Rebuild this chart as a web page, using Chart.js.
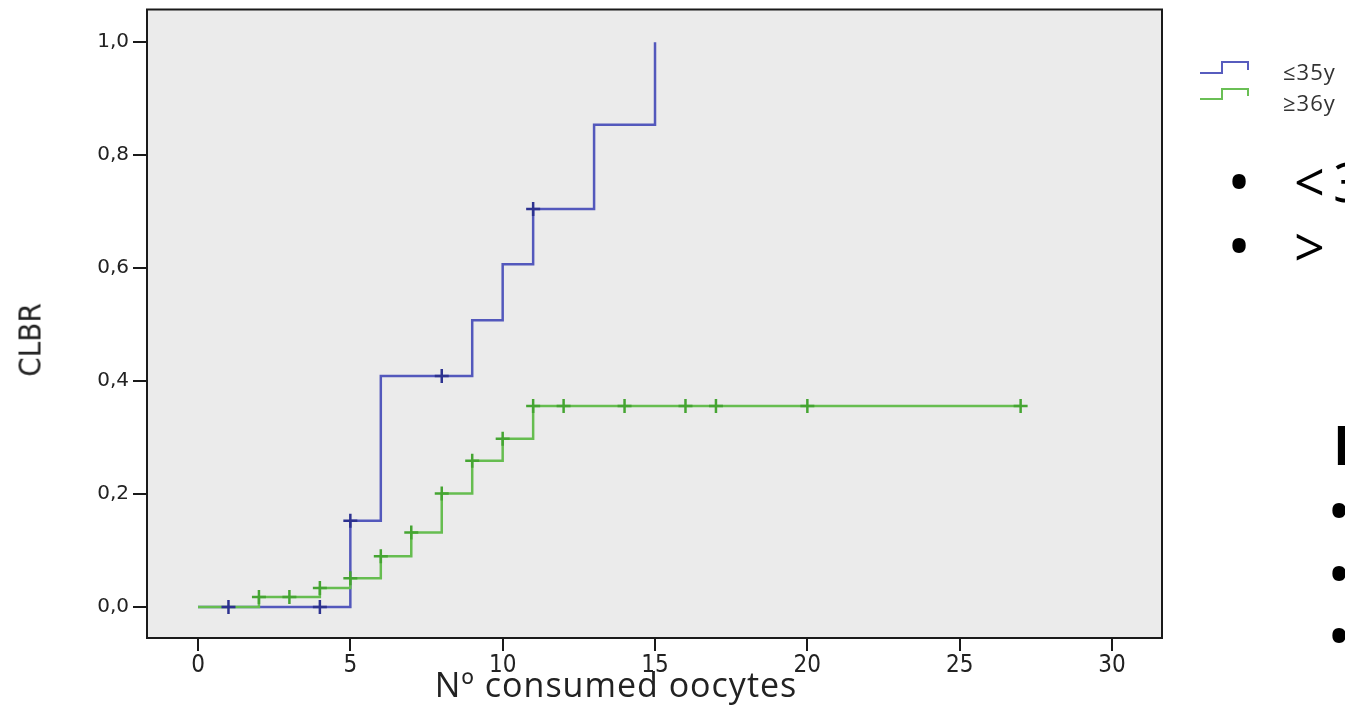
<!DOCTYPE html>
<html>
<head>
<meta charset="utf-8">
<script src="https://cdn.jsdelivr.net/npm/chart.js@4.4.0/dist/chart.umd.min.js"></script>
<style>
  body { margin: 0; width: 1345px; height: 727px; overflow: hidden; background: #fff; position: relative; font-family: 'Open Sans', sans-serif; }
  #myChart { position: absolute; left: 0; top: 0; }
  .txt { position: absolute; white-space: nowrap; line-height: 1; color: #111; }
  #ytitle { left: 30px; top: 340px; font-family: 'Liberation Sans Narrow', 'DejaVu Sans Condensed', sans-serif; font-size: 31px; transform: translate(-50%, -50%) rotate(-90deg); color: #222; }
  #xtitle { left: 616px; top: 684px; font-size: 34px; letter-spacing: 1px; transform: translate(-50%, -50%); color: #222; }
  .leg { font-size: 22px; letter-spacing: 1px; color: #333; }
  .big { font-size: 54px; letter-spacing: 8px; color: #000; }
  .dot { font-size: 64px; color: #000; }
</style>
</head>
<body>
<canvas id="myChart" width="1345" height="727"></canvas>

<div id="ytitle" class="txt">CLBR</div>
<div id="xtitle" class="txt">Nº consumed oocytes</div>

<svg style="position:absolute;left:1198px;top:56px" width="56" height="50">
  <polyline points="2,17 24,17 24,6 50,6 50,14" fill="none" stroke="#575cbe" stroke-width="2"/>
  <polyline points="2,43 24,43 24,33 50,33 50,40" fill="none" stroke="#6abf55" stroke-width="2"/>
</svg>
<div class="txt leg" style="left:1283px;top:60px">≤35y</div>
<div class="txt leg" style="left:1283px;top:91px">≥36y</div>

<div class="txt dot" style="left:1227px;top:149px">•</div>
<div class="txt big" style="left:1294px;top:154px">&lt;35</div>
<div class="txt dot" style="left:1227px;top:213px">•</div>
<div class="txt big" style="left:1294px;top:219px">&gt; 35</div>
<div class="txt big" style="left:1333px;top:417px;font-weight:bold">I</div>
<div class="txt dot" style="left:1327px;top:478px">•</div>
<div class="txt dot" style="left:1327px;top:541px">•</div>
<div class="txt dot" style="left:1327px;top:603px">•</div>

<script>
// Datos

const xTicks = [0, 5, 10, 15, 20, 25, 30];
const yTicks = [0, 0.2, 0.4, 0.6, 0.8, 1.0];

// <=35 anos: tiempos de evento y CLBR acumulado
const jovenTiempos = [0, 5, 6, 9, 10, 11, 13, 15];
const jovenValores = [0, 0.153, 0.409, 0.508, 0.607, 0.705, 0.854, 1.0];
const jovenCensuras = [1, 4, 5, 8, 11];

// >=36 anos
const mayorTiempos = [0, 2, 4, 5, 6, 7, 8, 9, 10, 11, 27];
const mayorValores = [0, 0.018, 0.034, 0.051, 0.09, 0.132, 0.201, 0.259, 0.298, 0.356, 0.356];
const mayorCensuras = [2, 3, 4, 5, 6, 7, 8, 9, 10, 11, 12, 14, 16, 17, 20, 27];

// Funciones auxiliares

function valorEn(tiempos, valores, t) {
  let v = valores[0];
  for (let i = 0; i < tiempos.length; i++) {
    if (tiempos[i] <= t) v = valores[i];
  }
  return v;
}

function puntos(tiempos, valores) {
  return tiempos.map((t, i) => ({ x: t, y: valores[i] }));
}

function censuras(lista, tiempos, valores) {
  return lista.map(t => ({ x: t, y: valorEn(tiempos, valores, t) }));
}

const fondoPlot = {
  id: 'fondoPlot',
  beforeDraw(chart) {
    const { ctx, chartArea: a } = chart;
    ctx.save();
    ctx.fillStyle = '#ebebeb';
    ctx.fillRect(a.left, a.top, a.right - a.left, a.bottom - a.top);
    ctx.restore();
  },
  afterDraw(chart) {
    const { ctx, chartArea: a } = chart;
    ctx.save();
    ctx.strokeStyle = '#1a1a1a';
    ctx.lineWidth = 2;
    ctx.strokeRect(a.left, a.top, a.right - a.left, a.bottom - a.top);
    ctx.restore();
  }
};

const ctx = document.getElementById('myChart').getContext('2d');

new Chart(ctx, {
  type: 'line',
  data: {
    datasets: [
      {
        label: '≤35y',
        data: puntos(jovenTiempos, jovenValores),
        borderColor: '#5358bc',
        borderWidth: 2.5,
        stepped: 'before',
        pointRadius: 0,
        fill: false,
        order: 4
      },
      {
        label: '≥36y',
        data: puntos(mayorTiempos, mayorValores),
        borderColor: '#66bd50',
        borderWidth: 2.5,
        stepped: 'before',
        pointRadius: 0,
        fill: false,
        order: 3
      },
      {
        label: '≤35y censurado',
        data: censuras(jovenCensuras, jovenTiempos, jovenValores),
        showLine: false,
        pointStyle: 'cross',
        pointRadius: 7,
        borderWidth: 2.5,
        borderColor: '#2d3290',
        order: 2
      },
      {
        label: '≥36y censurado',
        data: censuras(mayorCensuras, mayorTiempos, mayorValores),
        showLine: false,
        pointStyle: 'cross',
        pointRadius: 7,
        borderWidth: 2.5,
        borderColor: '#45a532',
        order: 1
      }
    ]
  },
  options: {
    responsive: false,
    animation: false,
    layout: { padding: { left: 0, top: 7, right: 183, bottom: 0 } },
    plugins: {
      legend: { display: false },
      tooltip: { enabled: false }
    },
    scales: {
      x: {
        type: 'linear',
        min: -1.674,
        max: 31.64,
        afterBuildTicks: s => { s.ticks = xTicks.map(v => ({ value: v })); },
        afterFit: s => { s.height = 89; s.paddingLeft = 0; s.paddingRight = 0; },
        border: { display: false },
        grid: { drawOnChartArea: false, tickLength: 13, color: '#1a1a1a', lineWidth: 2 },
        ticks: {
          padding: 0,
          color: '#222',
          font: { family: "'Liberation Sans Narrow', 'DejaVu Sans Condensed', sans-serif", size: 24 }
        }
      },
      y: {
        type: 'linear',
        min: -0.0547,
        max: 1.058,
        afterBuildTicks: s => { s.ticks = yTicks.map(v => ({ value: v })); },
        afterFit: s => { s.width = 147; s.paddingTop = 0; s.paddingBottom = 0; },
        border: { display: false },
        grid: { drawOnChartArea: false, tickLength: 14, color: '#1a1a1a', lineWidth: 2 },
        ticks: {
          padding: 4,
          color: '#222',
          font: { family: "'DejaVu Sans', sans-serif", size: 20 },
          callback: v => v.toFixed(1).replace('.', ',')
        }
      }
    }
  },
  plugins: [fondoPlot]
});
</script>
</body>
</html>
